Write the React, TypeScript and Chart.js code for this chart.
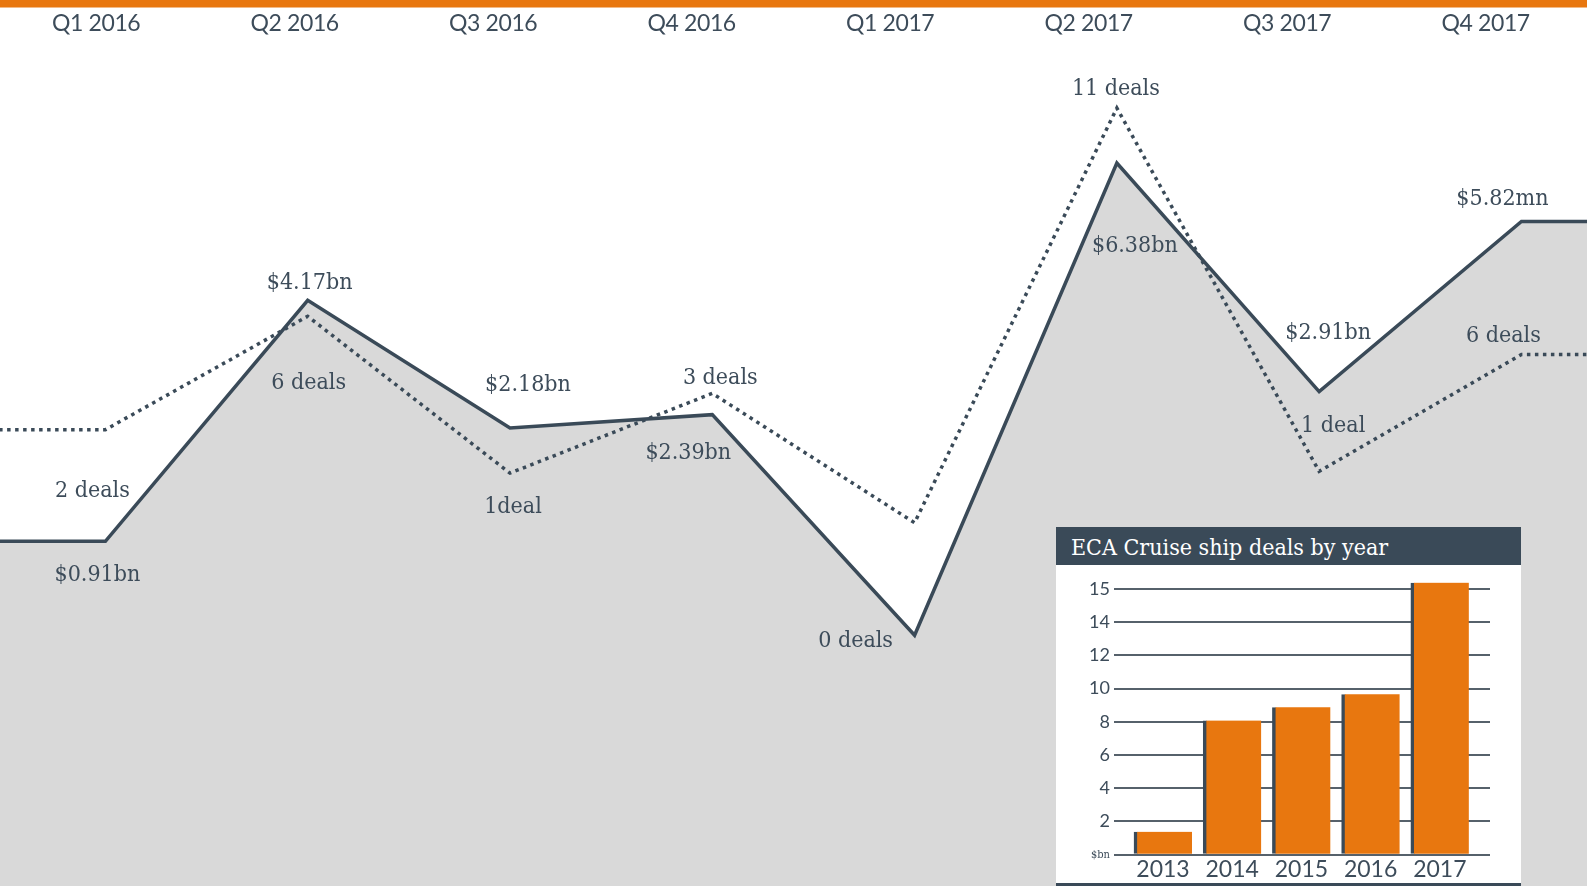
import React, { useEffect, useRef } from 'react';
import { Chart, registerables } from 'chart.js';

Chart.register(...registerables);

// ---- data ----
const quarters = ['Q1 2016', 'Q2 2016', 'Q3 2016', 'Q4 2016', 'Q1 2017', 'Q2 2017', 'Q3 2017', 'Q4 2017'];
const dealValueLabels = ['$0.91bn', '$4.17bn', '$2.18bn', '$2.39bn', '', '$6.38bn', '$2.91bn', '$5.82mn'];
const dealCountLabels = ['2 deals', '6 deals', '1deal', '3 deals', '0 deals', '11 deals', '1 deal', '6 deals'];
// plotted heights as drawn in the picture (0 = bottom, 100 = top of the chart)
const dealValueHeights = [38.9, 66.1, 51.7, 53.2, 28.3, 81.6, 55.8, 75.0];
const dealCountHeights = [51.5, 64.3, 46.6, 55.6, 41.0, 87.8, 46.8, 60.0];

const insetTitle = 'ECA Cruise ship deals by year';
const insetYears = ['2013', '2014', '2015', '2016', '2017'];
const insetValues = [1.38, 8.08, 8.88, 9.66, 16.38];
const insetTickValues = [0, 2, 4, 6, 8, 10, 12, 14, 16];
const insetTickLabels = ['$bn', '2', '4', '6', '8', '10', '12', '14', '15'];

// ---- styles ----
const DARK = '#3a4a58';
const TEXT = '#3d4c5a';
const ORANGE = '#e8770f';
const GREY = '#d9d9d9';
const SLAB = '"DejaVu Serif Condensed", "DejaVu Serif", serif';
const SANS = 'Lato, "Open Sans", sans-serif';

// label offsets (px) relative to each point, [dx, dy] to text baseline centre
const valueLabelOffsets = [[-8, 40], [2, -11], [18, -37], [-24, 44], [0, 0], [18, 89], [9, -53], [-19, -17]];
const countLabelOffsets = [[-13, 67], [1, 73], [3, 40], [8, -9], [-59, 124], [-1, -13], [14, -39], [-18, -12]];

function withEnds(values: number[]) {
  const pts = values.map((y, i) => ({ x: i, y }));
  return [{ x: -1, y: values[0] }, ...pts, { x: values.length, y: values[values.length - 1] }];
}

export default function App() {
  const mainRef = useRef<HTMLCanvasElement>(null);
  const insetRef = useRef<HTMLCanvasElement>(null);

  useEffect(() => {
    document.body.style.margin = '0';
    const bgPlugin = {
      id: 'bg',
      beforeDraw(chart: any) {
        const { ctx, width } = chart;
        ctx.save();
        ctx.fillStyle = '#ffffff';
        ctx.fillRect(0, 0, width, chart.height);
        ctx.restore();
      },
      afterDraw(chart: any) {
        const { ctx, width } = chart;
        ctx.save();
        ctx.fillStyle = ORANGE;
        ctx.fillRect(0, 0, width, 7.5);
        // quarter labels along the top scale
        const xq = chart.scales.xq;
        ctx.font = `23px ${SANS}`;
        ctx.fillStyle = TEXT;
        ctx.textAlign = 'center';
        ctx.textBaseline = 'alphabetic';
        try { (ctx as any).letterSpacing = '-0.4px'; } catch (e) {}
        quarters.forEach((q, i) => {
          ctx.fillText(q, xq.getPixelForValue(i), 30.7);
        });
        ctx.restore();
      },
    };
    const labelPlugin = {
      id: 'pointLabels',
      afterDatasetsDraw(chart: any) {
        const ctx = chart.ctx;
        ctx.save();
        ctx.font = `23px ${SLAB}`;
        ctx.fillStyle = TEXT;
        ctx.textAlign = 'center';
        ctx.textBaseline = 'alphabetic';
        const sets: [number, string[], number[][]][] = [
          [0, dealValueLabels, valueLabelOffsets],
          [1, dealCountLabels, countLabelOffsets],
        ];
        sets.forEach(([di, labels, offs]) => {
          const meta = chart.getDatasetMeta(di);
          labels.forEach((t, i) => {
            if (!t) return;
            const el = meta.data[i + 1];
            ctx.fillText(t, el.x + offs[i][0], el.y + offs[i][1]);
          });
        });
        ctx.restore();
      },
    };

    const main = new Chart(mainRef.current!, {
      type: 'line',
      data: {
        datasets: [
          {
            label: 'Deal value',
            data: withEnds(dealValueHeights),
            borderColor: DARK,
            borderWidth: 3.5,
            borderJoinStyle: 'miter',
            backgroundColor: GREY,
            fill: 'start',
            pointRadius: 0,
            tension: 0,
            order: 2,
          },
          {
            label: 'Number of deals',
            data: withEnds(dealCountHeights),
            borderColor: DARK,
            borderWidth: 3.5,
            borderDash: [3.5, 4.5],
            borderJoinStyle: 'miter',
            fill: false,
            pointRadius: 0,
            tension: 0,
            order: 1,
          },
        ] as any,
      },
      options: {
        animation: false,
        responsive: false,
        maintainAspectRatio: false,
        layout: { padding: 0 },
        scales: {
          x: { type: 'linear', min: -0.521, max: 7.324, display: false },
          xq: { type: 'linear', axis: 'x', min: -0.4846, max: 7.5103, display: false },
          y: { type: 'linear', min: 0, max: 100, display: false },
        } as any,
        plugins: { legend: { display: false }, tooltip: { enabled: false } },
        events: [],
      },
      plugins: [bgPlugin, labelPlugin],
    });

    const inset = new Chart(insetRef.current!, {
      type: 'bar',
      data: {
        datasets: [
          {
            label: 'ECA cruise ship deals ($bn)',
            data: insetValues.map((y, i) => ({ x: i, y })),
            backgroundColor: ORANGE,
            borderColor: DARK,
            borderWidth: { left: 3.5, top: 0, right: 0, bottom: 0 },
            borderSkipped: false,
            barThickness: 58,
          },
        ] as any,
      },
      options: {
        animation: false,
        responsive: false,
        maintainAspectRatio: false,
        layout: { padding: { top: 15.7, right: 31, left: 0, bottom: 0 } },
        scales: {
          x: {
            type: 'linear',
            min: -0.708,
            max: 4.725,
            offset: false,
            grid: { display: false, drawTicks: false },
            border: { display: false },
            afterBuildTicks: (s: any) => {
              s.ticks = insetYears.map((_, i) => ({ value: i }));
            },
            afterFit: (s: any) => {
              s.height = 28.3;
            },
            ticks: {
              callback: (v: any) => insetYears[v] ?? '',
              font: { family: SANS, size: 23 },
              color: TEXT,
              padding: 1,
              autoSkip: false,
              maxRotation: 0,
            },
          },
          y: {
            type: 'linear',
            min: 0,
            max: 16.5,
            afterBuildTicks: (s: any) => {
              s.ticks = insetTickValues.map((v) => ({ value: v }));
            },
            afterFit: (s: any) => {
              s.width = 58;
            },
            grid: { color: '#56616b', lineWidth: 2, drawTicks: false },
            border: { display: false },
            ticks: {
              callback: (_v: any, idx: number) => insetTickLabels[idx],
              font: (c: any) =>
                c.index === 0 ? { family: SLAB, size: 11 } : { family: SANS, size: 18 },
              color: TEXT,
              padding: 4,
            },
          },
        } as any,
        plugins: { legend: { display: false }, tooltip: { enabled: false } },
        events: [],
      },
    });

    return () => {
      main.destroy();
      inset.destroy();
    };
  }, []);

  return (
    <div style={{ position: 'fixed', left: 0, top: 0, width: 1587, height: 886, overflow: 'hidden', background: '#fff' }}>
      <canvas ref={mainRef} width={1587} height={886} style={{ position: 'absolute', left: 0, top: 0, width: 1587, height: 886 }} />
      <div style={{ position: 'absolute', left: 1056, top: 527, width: 465, height: 359, background: '#fff' }}>
        <div
          style={{
            height: 38,
            background: DARK,
            color: '#fff',
            font: `23px ${SLAB}`,
            lineHeight: '38px',
            paddingLeft: 15,
            paddingTop: 1,
            boxSizing: 'border-box',
            whiteSpace: 'nowrap',
          }}
        >
          {insetTitle}
        </div>
        <canvas ref={insetRef} width={465} height={318} style={{ display: 'block', width: 465, height: 318 }} />
        <div style={{ height: 3, background: DARK }} />
      </div>
    </div>
  );
}
